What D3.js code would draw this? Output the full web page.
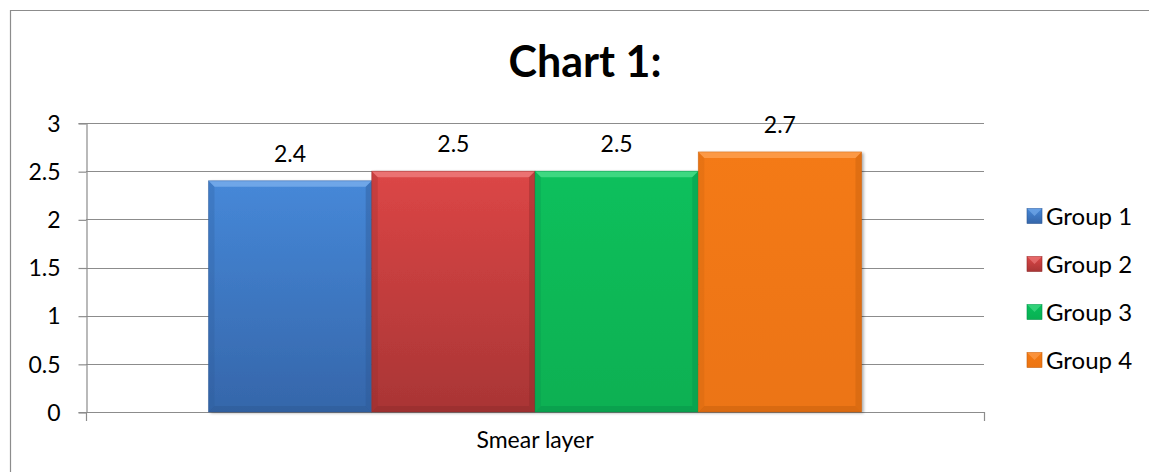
<!DOCTYPE html>
<html>
<head>
<meta charset="utf-8">
<script src="https://cdn.jsdelivr.net/npm/d3@7"></script>
<style>
  html, body { margin: 0; padding: 0; background: #fff; }
  svg { display: block; }
  text { font-family: Lato, "Liberation Sans", sans-serif; fill: #000; }
</style>
</head>
<body>
<svg id="chart" width="1149" height="472"></svg>
<script>
// ---- data ----
const categories = ["Smear layer"];
const seriesNames = ["Group 1", "Group 2", "Group 3", "Group 4"];
const seriesValues = [2.4, 2.5, 2.5, 2.7];
const yTicks = [0, 0.5, 1, 1.5, 2, 2.5, 3];
const yTickLabels = ["0", "0.5", "1", "1.5", "2", "2.5", "3"];
const chartTitle = "Chart 1:";

// ---- styles ----
const colors = [
  { top: "#4688d8", bot: "#3566aa", light: "#7cb0ee", dark: "#2d5893" },
  { top: "#dc4646", bot: "#a93535", light: "#f08080", dark: "#8f2a2a" },
  { top: "#08c05c", bot: "#08b052", light: "#4fe08e", dark: "#06904a" },
  { top: "#f47a14", bot: "#ec7412", light: "#ffa456", dark: "#c45e0c" }
];

const svg = d3.select("#chart");
const W = 1149, H = 472;
const plot = { left: 86, right: 984, top: 123, bottom: 412 };

// defs
const defs = svg.append("defs");
colors.forEach((c, i) => {
  const g = defs.append("linearGradient").attr("id", "grad" + i)
    .attr("x1", 0).attr("y1", 0).attr("x2", 0).attr("y2", 1);
  g.append("stop").attr("offset", "0%").attr("stop-color", c.top);
  g.append("stop").attr("offset", "100%").attr("stop-color", c.bot);
});
const f = defs.append("filter").attr("id", "shadow")
  .attr("x", "-10%").attr("y", "-10%").attr("width", "130%").attr("height", "130%");
f.append("feDropShadow").attr("dx", 2).attr("dy", 1).attr("stdDeviation", 1.5)
  .attr("flood-color", "#000").attr("flood-opacity", 0.35);

// outer border (extends beyond the visible area on right/bottom)
svg.append("path")
  .attr("d", `M10.5,${H + 5} L10.5,10.5 L${W + 5},10.5`)
  .attr("fill", "none").attr("stroke", "#8c8c8c").attr("stroke-width", 1.2);

// scales
const y = d3.scaleLinear().domain([0, 3]).range([plot.bottom, plot.top]);
const x0 = d3.scaleBand().domain(categories).range([plot.left, plot.right])
  .paddingInner(0).paddingOuter(0);
// Excel-style: gap width 150% -> outer padding of 0.75 bar width each side
const x1 = d3.scaleBand().domain(seriesNames)
  .range([0, x0.bandwidth()]).paddingInner(0).paddingOuter(0.75);

// gridlines
svg.append("g")
  .selectAll("line").data(yTicks.filter(d => d > 0)).join("line")
  .attr("x1", plot.left).attr("x2", plot.right)
  .attr("y1", d => Math.round(y(d)) + 0.5).attr("y2", d => Math.round(y(d)) + 0.5)
  .attr("stroke", "#8c8c8c").attr("stroke-width", 1.2);

// y axis
const yAxis = d3.axisLeft(y).tickValues(yTicks)
  .tickFormat((d, i) => yTickLabels[i]).tickSize(8).tickPadding(18);
const gy = svg.append("g").attr("transform", `translate(${plot.left + 0.5},0)`).call(yAxis);
gy.select(".domain").attr("stroke", "#8c8c8c").attr("stroke-width", 1.2);
gy.selectAll(".tick line").attr("stroke", "#8c8c8c").attr("stroke-width", 1.2)
  .attr("transform", "translate(0,0.5)");
gy.selectAll(".tick text").style("font-family", "Lato, sans-serif")
  .style("font-size", "23px").attr("fill", "#000").attr("dy", "0.36em");

// x axis
const xAxis = d3.axisBottom(x0).tickSize(0).tickFormat(() => "");
const gx = svg.append("g").attr("transform", `translate(0,${plot.bottom + 0.5})`).call(xAxis);
gx.select(".domain").remove();
svg.append("line").attr("x1", plot.left).attr("x2", plot.right)
  .attr("y1", plot.bottom + 0.5).attr("y2", plot.bottom + 0.5)
  .attr("stroke", "#8c8c8c").attr("stroke-width", 1.2);
// category boundary ticks
[plot.left, plot.right].forEach(px => {
  svg.append("line").attr("x1", px + 0.5).attr("x2", px + 0.5)
    .attr("y1", plot.bottom).attr("y2", plot.bottom + 9)
    .attr("stroke", "#8c8c8c").attr("stroke-width", 1.2);
});
// category label
svg.append("g").selectAll("text").data(categories).join("text")
  .attr("x", d => x0(d) + x0.bandwidth() / 2).attr("y", 448)
  .attr("text-anchor", "middle").style("font-size", "23px").text(d => d);

// bars
const bev = 6;
const barG = svg.append("g");
seriesNames.forEach((name, i) => {
  const v = seriesValues[i];
  const bx = x0(categories[0]) + x1(name);
  const bw = x1.bandwidth();
  const by = y(v);
  const bh = y(0) - y(v);
  const c = colors[i];
  const g = barG.append("g");
  g.append("rect").attr("x", bx).attr("y", by).attr("width", bw).attr("height", bh)
    .attr("fill", `url(#grad${i})`).attr("filter", "url(#shadow)");
  // top bevel
  g.append("path").attr("d",
    `M${bx},${by} L${bx + bw},${by} L${bx + bw - bev},${by + bev} L${bx + bev},${by + bev} Z`)
    .attr("fill", c.light).attr("opacity", 0.75);
  // bottom bevel
  g.append("path").attr("d",
    `M${bx},${by + bh} L${bx + bw},${by + bh} L${bx + bw - bev},${by + bh - bev} L${bx + bev},${by + bh - bev} Z`)
    .attr("fill", c.dark).attr("opacity", 0.45);
  // left bevel
  g.append("path").attr("d",
    `M${bx},${by} L${bx + bev},${by + bev} L${bx + bev},${by + bh - bev} L${bx},${by + bh} Z`)
    .attr("fill", c.dark).attr("opacity", 0.25);
  // right bevel
  g.append("path").attr("d",
    `M${bx + bw},${by} L${bx + bw - bev},${by + bev} L${bx + bw - bev},${by + bh - bev} L${bx + bw},${by + bh} Z`)
    .attr("fill", c.dark).attr("opacity", 0.4);
  // outline
  g.append("rect").attr("x", bx).attr("y", by).attr("width", bw).attr("height", bh)
    .attr("fill", "none").attr("stroke", c.dark).attr("stroke-width", 0.8).attr("opacity", 0.5);
  // data label
  svg.append("text").attr("x", bx + bw / 2).attr("y", by - 19)
    .attr("text-anchor", "middle").style("font-size", "23px").text(String(v));
});

// title
svg.append("text").attr("x", 585).attr("y", 77).attr("text-anchor", "middle")
  .style("font-size", "43px").style("font-weight", "bold").text(chartTitle);

// legend
const legY = d3.scalePoint().domain(seriesNames).range([216, 360]);
const leg = svg.append("g");
seriesNames.forEach((name, i) => {
  const cy = legY(name);
  const c = colors[i];
  const s = 15, lx = 1027, ly = cy - 7.5;
  leg.append("rect").attr("x", lx).attr("y", ly).attr("width", s).attr("height", s)
    .attr("fill", `url(#grad${i})`).attr("stroke", c.dark).attr("stroke-width", 0.6);
  leg.append("path").attr("d",
    `M${lx},${ly} L${lx + s},${ly} L${lx + s / 2},${ly + s / 2} Z`)
    .attr("fill", c.light).attr("opacity", 0.6);
  leg.append("text").attr("x", lx + s + 4).attr("y", cy).attr("dy", "0.36em")
    .style("font-size", "24px").text(name);
});
</script>
</body>
</html>
